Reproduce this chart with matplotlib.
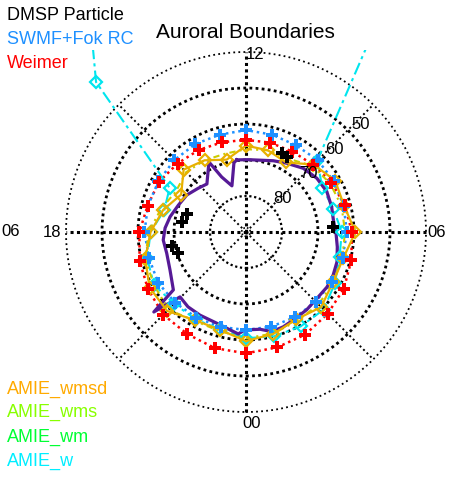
import numpy as np
import matplotlib.pyplot as plt
from matplotlib.patches import Rectangle

plt.rcParams['font.family'] = ['Liberation Sans', 'DejaVu Sans']

# ---- data (MLT hours, magnetic latitude in degrees) ----
hours = [0, 1, 2, 3, 4, 5, 6, 7, 8, 9, 10, 11,
         12, 13, 14, 15, 16, 17, 18, 19, 20, 21, 22, 23]

weimer_lat = [56.3, 56.8, 57.1, 57.9, 58.6, 59.7, 60.6, 61.5, 62.6, 63.6, 64.2, 64.3,
              64.4, 64.2, 63.7, 63.1, 62.1, 61.7, 60.4, 59.4, 58.5, 57.5, 57.3, 56.6]

swmf_lat = [62.8, 62.8, 62.7, 62.6, 62.4, 62.2, 62.0, 61.9, 61.8, 61.8, 62.2, 62.0,
            61.7, 62.0, 61.8, 61.8, 61.9, 61.8, 61.8, 62.1, 61.8, 62.2, 62.5, 62.7]

wmsd_lat = [59.7, 60.7, 62.0, 60.5, 62.1, 62.0, 59.6, 61.8, 61.4, 63.5, 67.7, 66.5,
            66.0, 69.2, 67.0, 65.5, 69.2, 66.2, 63.5, 61.0, 59.1, 59.0, 61.7, 61.9]

wms_lat = [60.5, 60.8, 61.5, 61.5, 62.0, 62.3, 62.5, 62.5, 63.0, 64.0, 66.5, 66.5,
           67.0, 67.5, 67.0, 66.5, 67.5, 65.5, 63.0, 61.0, 60.5, 59.5, 61.5, 61.5]

# AMIE_w has bad values (0 deg) on the dayside
amie_w_lat = [60.5, 60.0, 59.7, 59.5, 61.5, 63.1, 63.4, 64.9, 65.5, 62.0, 0.0, 0.0,
              0.0, 0.0, 0.0, 31.1, 65.5, 66.5, 63.5, 61.6, 60.5, 61.8, 62.0, 62.0]

dmsp_mlt = [10.37, 10.09, 6.23, 17.40, 16.89, 18.71, 19.15]
dmsp_lat = [66.0, 66.4, 65.7, 72.1, 73.0, 69.1, 70.2]

oval_mlt = [12.49, 11.89, 10.60, 9.96, 9.20, 8.48, 7.77, 7.09, 6.52, 5.96, 5.38, 4.79,
            4.25, 3.72, 3.13, 2.53, 1.89, 1.43, 0.97, 0.55, 23.96, 23.71, 22.81, 22.07,
            21.48, 20.97, 20.73, 20.57, 19.77, 19.00, 18.37, 17.81, 17.24, 16.55, 15.87,
            15.17, 14.61, 13.86, 13.59, 13.13, 12.66, 12.49]
oval_lat = [69.8, 69.9, 68.8, 67.8, 66.2, 65.3, 64.9, 65.2, 65.5, 65.0, 64.3, 63.4,
            63.0, 62.8, 63.0, 62.6, 62.25, 61.7, 61.4, 62.7, 62.8, 61.6, 63.4, 63.6,
            63.7, 64.3, 56.1, 64.2, 66.4, 67.2, 66.9, 67.5, 68.5, 69.8, 70.6,
            72.0, 72.8, 68.0, 73.3, 76.6, 70.5, 69.8]

lat_circles = [80, 70, 60, 50]
mlt_labels = ['12', '18', '06', '00']


def to_xy(mlt, lat):
    mlt = np.asarray(mlt, float)
    colat = 90.0 - np.asarray(lat, float)
    phi = np.radians((mlt - 6.0) * 15.0)
    return colat * np.cos(phi), colat * np.sin(phi)


def closed(vals):
    return list(vals) + [vals[0]]


fig = plt.figure(figsize=(4.52, 4.84), dpi=100)
ax = fig.add_axes([66 / 452, 72 / 484, 360 / 452, 360 / 484])
ax.set_xlim(-50, 50)
ax.set_ylim(-50, 50)
ax.axis('off')

# plot window the curves get clipped to (top edge just above the 12 label)
clip_box = Rectangle((-80, -70), 160, 120.6, transform=ax.transData)

# grid
ring_mlt = np.linspace(0, 24, 361)
for lat in lat_circles:
    x, y = to_xy(ring_mlt, np.full_like(ring_mlt, lat))
    lw = 1.6 if lat == 80 else 2.0
    ax.plot(x, y, color='k', lw=lw, ls=(0, (1, 1.2)), clip_on=False, zorder=1)
x, y = to_xy(ring_mlt, np.full_like(ring_mlt, 40))
ax.plot(x, y, color='k', lw=1.3, ls=(0, (1, 1.8)), clip_on=False, zorder=1)
x, y = to_xy(ring_mlt, np.full_like(ring_mlt, 88.8))
ax.plot(x, y, color='k', lw=1.2, ls=(0, (1, 1.2)), clip_on=False, zorder=1)
ax.plot([0], [0], 'k.', ms=4, zorder=1)
for m in [0, 6]:
    x, y = to_xy([m, m + 12], [40, 40])
    ax.plot(x, y, color='k', lw=2.2, ls=(0, (1, 1.1)), clip_on=False, zorder=1)
for m in [3, 9, 15, 21]:
    x, y = to_xy([m, m], [88.5, 40])
    ax.plot(x, y, color='k', lw=1.4, ls=(0, (1, 1.5)), clip_on=False, zorder=1)

for lat in lat_circles:
    x, y = to_xy(8.87, lat - 3.7)
    ax.text(x, y, str(lat), ha='center', va='center', fontsize=12, zorder=6)

ax.text(-0.2, 49.4, mlt_labels[0], ha='left', va='center', fontsize=12)
ax.text(-51.2, 0, mlt_labels[1], ha='right', va='center', fontsize=12)
ax.text(50.4, 0, mlt_labels[2], ha='left', va='center', fontsize=12)
ax.text(-1.0, -53.1, mlt_labels[3], ha='left', va='center', fontsize=12)
fig.text(1 / 452, 1 - 231 / 484, mlt_labels[2], ha='left', va='center', fontsize=12)

# boundaries
x, y = to_xy(closed(hours), closed(weimer_lat))
ax.plot(x, y, color='red', lw=1.8, ls=(0, (1, 1.5)), clip_on=False, zorder=2)
ax.plot(x[:-1], y[:-1], 'P', color='red', ms=8, mew=0, clip_on=False, zorder=5)

x, y = to_xy(closed(hours), closed(swmf_lat))
ax.plot(x, y, color='#1E90FF', lw=1.8, ls=(0, (1, 1.5)), clip_on=False, zorder=2)
ax.plot(x[:-1], y[:-1], 'P', color='#1E90FF', ms=8, mew=0, clip_on=False, zorder=4.5)

x, y = to_xy(closed(hours), closed(amie_w_lat))
ln, = ax.plot(x, y, color='#00E5EE', lw=1.5, ls=(0, (6, 2, 1.5, 2)), zorder=3)
ln.set_clip_path(clip_box)
mk, = ax.plot(x[:-1], y[:-1], 'D', color='#00E5EE', ms=6, mfc='none', mew=1.6,
              zorder=4)
mk.set_clip_path(clip_box)

x, y = to_xy(closed(hours), closed(wms_lat))
ax.plot(x, y, color='#CCCC00', lw=1.5, ls=(0, (3, 2, 1, 2)), clip_on=False, zorder=3)

x, y = to_xy(oval_mlt, oval_lat)
ax.plot(x, y, color='#561A96', lw=2.3, clip_on=False, zorder=3.5)

x, y = to_xy(closed(hours), closed(wmsd_lat))
ax.plot(x, y, color='#E8B000', lw=1.6, clip_on=False, zorder=4)
ax.plot(x[:-1], y[:-1], 'D', color='#E8B000', ms=6, mfc='none', mew=1.6,
        clip_on=False, zorder=4.2)

x, y = to_xy(dmsp_mlt, dmsp_lat)
ax.plot(x, y, 'P', color='k', ms=8, mew=0, clip_on=False, zorder=6)

# title and legend text
fig.text(245 / 452, 1 - 33 / 484, 'Auroral Boundaries', ha='center', va='center',
         fontsize=15)
top_labels = [('DMSP Particle', 'black', 16), ('SWMF+Fok RC', '#1E90FF', 40),
              ('Weimer', 'red', 64)]
for name, col, ypix in top_labels:
    fig.text(7 / 452, 1 - ypix / 484, name, color=col, ha='left', va='center',
             fontsize=13)
bottom_labels = [('AMIE_wmsd', '#FFAA00', 389), ('AMIE_wms', '#88FF00', 412),
                 ('AMIE_wm', '#00FF33', 437), ('AMIE_w', '#00EEFF', 461)]
for name, col, ypix in bottom_labels:
    fig.text(7 / 452, 1 - ypix / 484, name, color=col, ha='left', va='center',
             fontsize=13)

fig.savefig('out.png', dpi=100)
